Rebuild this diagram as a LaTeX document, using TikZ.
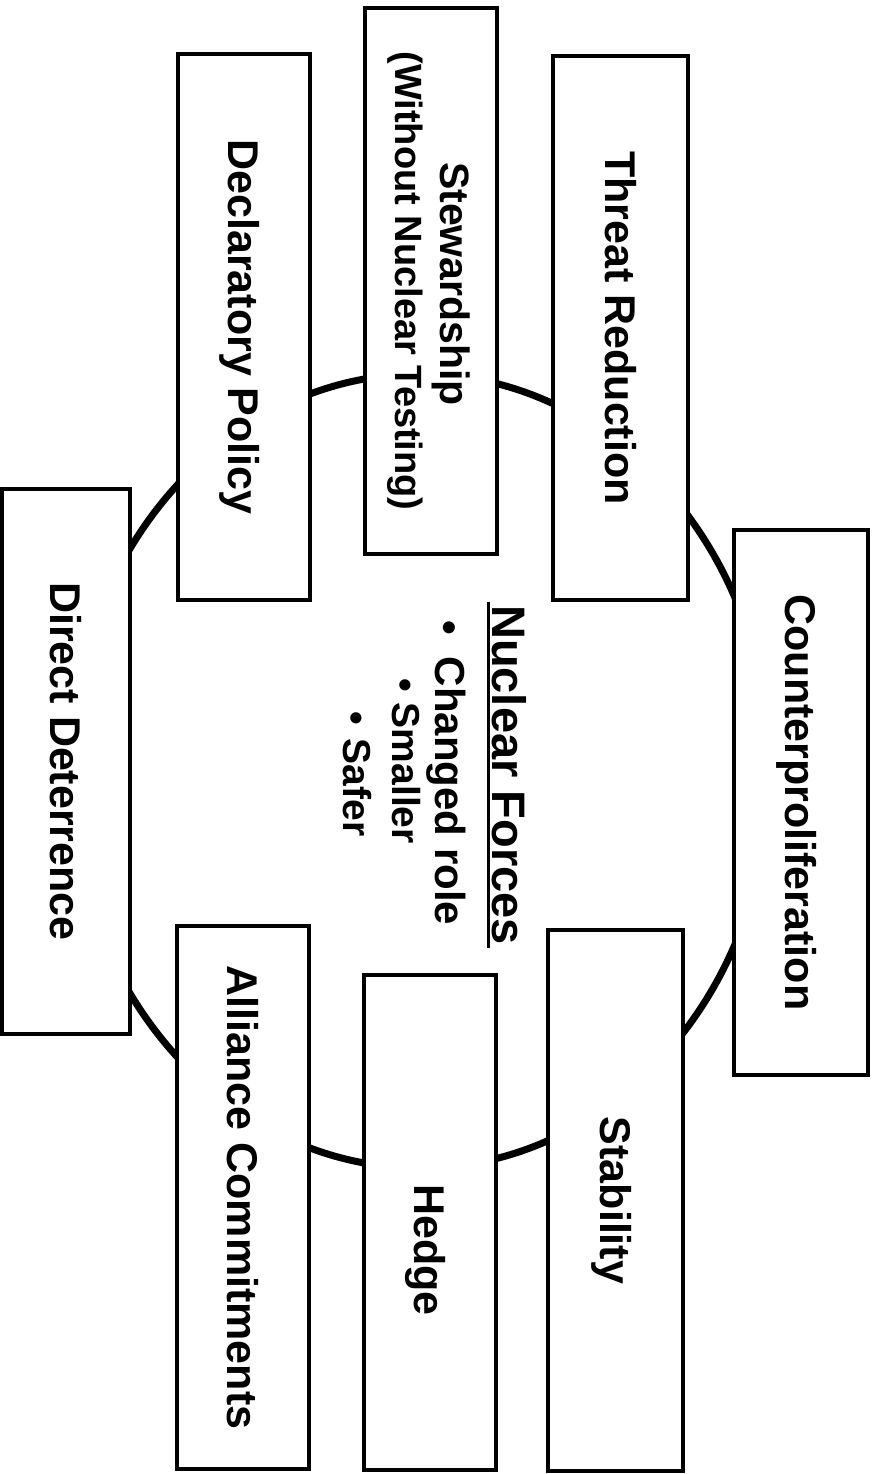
\documentclass[tikz,border=0pt]{standalone}
\usepackage{fontspec}
\setmainfont{Liberation Sans}
\usetikzlibrary{shapes.geometric,calc}
\tikzset{
 box/.style={draw, line width=3.5pt, fill=white, inner sep=0pt, outer sep=0pt},
 lbl/.style={rotate=-90, anchor=base, inner sep=0pt, font=\bfseries\fontsize{43}{43}\selectfont},
 ctr/.style={rotate=-90, anchor=base west, inner sep=0pt},
}
\begin{document}
\begin{tikzpicture}[x=1pt,y=-1pt]
\useasboundingbox (0,0) rectangle (871,1474);
\fill[white] (0,0) rectangle (871,1474);
\node[ellipse, draw, line width=7pt, minimum width=700pt, minimum height=794pt, inner sep=0pt] (ring) at (420,771) {};
% boxes
\node[box, minimum width=135pt, minimum height=544pt] (thr) at (620.5,328) {};
\node[box, minimum width=134pt, minimum height=545pt] (cnt) at (801,802.5) {};
\node[box, minimum width=132pt, minimum height=546pt] (stw) at (431,281) {};
\node[box, minimum width=132pt, minimum height=546pt] (dec) at (244,327) {};
\node[box, minimum width=128pt, minimum height=545pt] (dd) at (66,761.5) {};
\node[box, minimum width=135pt, minimum height=541pt] (stb) at (615.5,1200.5) {};
\node[box, minimum width=132pt, minimum height=495pt] (hdg) at (430,1222.5) {};
\node[box, minimum width=132pt, minimum height=543pt] (all) at (243,1197.5) {};
% labels
\node[lbl] (thrT) at (605,328) {Threat Reduction};
\node[lbl] (cntT) at (785.5,802.5) {Counterproliferation};
\node[lbl, font=\bfseries\fontsize{41}{41}\selectfont] (stwT1) at (440,284) {Stewardship};
\node[lbl, font=\bfseries\fontsize{38}{38}\selectfont] (stwT2) at (395,281) {(Without Nuclear Testing)};
\node[lbl] (decT) at (228.5,327) {Declaratory Policy};
\node[lbl] (ddT) at (50.5,761.5) {Direct Deterrence};
\node[lbl] (stbT) at (600,1200.5) {Stability};
\node[lbl] (hdgT) at (414.5,1250) {Hedge};
\node[lbl] (allT) at (227.5,1197.5) {Alliance Commitments};
% centre text
\node[ctr, font=\bfseries\fontsize{47}{47}\selectfont] (nf) at (492,605) {Nuclear Forces};
\draw[line width=3pt] ($(nf.base west)+(-4,-3)$) -- ($(nf.base east)+(-4,3)$);
\node[ctr, font=\bfseries\fontsize{42}{42}\selectfont] (b1) at (435,620) {•\hspace{22pt}Changed role};
\node[ctr, font=\bfseries\fontsize{39}{39}\selectfont] (b2) at (392,678) {•\hspace{11pt}Smaller};
\node[ctr, font=\bfseries\fontsize{39}{39}\selectfont] (b3) at (343,711) {•\hspace{14pt}Safer};
\end{tikzpicture}
\end{document}
